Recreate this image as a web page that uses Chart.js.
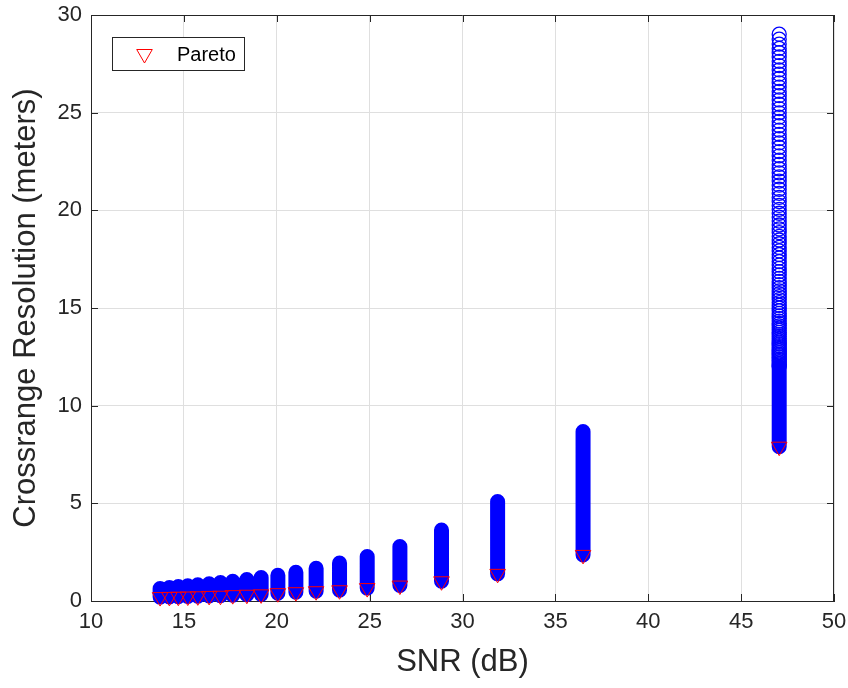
<!DOCTYPE html>
<html><head><meta charset="utf-8">
<script src="https://cdn.jsdelivr.net/npm/chart.js@4.4.1/dist/chart.umd.min.js"></script>
<style>html,body{margin:0;padding:0;background:#fff;} #wrap{width:848px;height:688px;}</style>
</head><body><div id="wrap"><canvas id="c" width="848" height="688"></canvas></div>
<script>
// ---- data ----
const snr = [13.72, 14.22, 14.70, 15.21, 15.75, 16.36, 16.97, 17.63, 18.39, 19.16,
             20.06, 21.03, 22.12, 23.38, 24.87, 26.63, 28.87, 31.89, 36.49, 47.05];
const crMax = [0.64, 0.69, 0.74, 0.78, 0.83, 0.88, 0.95, 1.01, 1.10, 1.20,
               1.32, 1.47, 1.68, 1.94, 2.28, 2.79, 3.63, 5.09, 8.68, 29.02];
const pareto = [0.20, 0.21, 0.22, 0.23, 0.24, 0.26, 0.27, 0.30, 0.32, 0.34,
                0.40, 0.45, 0.50, 0.55, 0.66, 0.79, 1.01, 1.39, 2.36, 7.90];
// individually visible circles in the last (sparse) column
const sparseSnr = 47.05;
const sparseValues = [12.00, 12.08, 12.16, 12.24, 12.32, 12.40, 12.48, 12.56, 12.64, 12.72,
  12.80, 12.89, 12.98, 13.07, 13.16, 13.25, 13.34, 13.44, 13.54, 13.64, 13.75, 13.86, 13.97,
  14.09, 14.21, 14.33, 14.46, 14.59, 14.72, 14.86, 15.00, 15.14, 15.28, 15.43, 15.58, 15.73,
  15.88, 16.04, 16.20, 16.36, 16.52, 16.69, 16.86, 17.03, 17.20, 17.38, 17.56, 17.74, 17.92,
  18.10, 18.29, 18.48, 18.67, 18.86, 19.05, 19.25, 19.45, 19.65, 19.85, 20.05, 20.25, 20.45,
  20.66, 20.87, 21.08, 21.29, 21.50, 21.71, 21.92, 22.13, 22.35, 22.57, 22.79, 23.01, 23.23,
  23.45, 23.67, 23.89, 24.11, 24.33, 24.55, 24.77, 24.99, 25.21, 25.43, 25.65, 25.87, 26.09,
  26.31, 26.53, 26.75, 26.97, 27.19, 27.41, 27.63, 27.85, 28.07, 28.29, 28.51, 28.76, 29.02];
const xTicks = [10, 15, 20, 25, 30, 35, 40, 45, 50];
const yTicks = [0, 5, 10, 15, 20, 25, 30];
const seriesLabel = 'Pareto';

// ---- build datasets ----
const columnData = [];
snr.forEach((s, i) => {
  let top = crMax[i];
  if (s === sparseSnr) top = Math.min(top, sparseValues[0]);
  columnData.push({x: s, y: pareto[i]}, {x: s, y: top}, {x: s, y: null});
});
const paretoData = snr.map((s, i) => ({x: s, y: pareto[i]}));
const sparseData = sparseValues.map(v => ({x: sparseSnr, y: v}));

const FONT = "'Liberation Sans', Arial, Helvetica, sans-serif";
const AX = '#262626';

const boxTicks = {
  id: 'boxTicks',
  beforeDatasetsDraw(chart) {
    const {ctx, chartArea: a, scales: {x, y}} = chart;
    ctx.save();
    ctx.strokeStyle = AX; ctx.lineWidth = 1;
    ctx.beginPath();
    ctx.moveTo(a.left, a.top + 0.5); ctx.lineTo(a.right, a.top + 0.5);
    ctx.moveTo(a.right - 0.5, a.top); ctx.lineTo(a.right - 0.5, a.bottom);
    const L = 7;
    xTicks.forEach(v => {
      const px = Math.round(x.getPixelForValue(v)) + 0.5;
      ctx.moveTo(px, a.bottom); ctx.lineTo(px, a.bottom - L);
      ctx.moveTo(px, a.top); ctx.lineTo(px, a.top + L);
    });
    yTicks.forEach(v => {
      const py = Math.round(y.getPixelForValue(v)) + 0.5;
      ctx.moveTo(a.left, py); ctx.lineTo(a.left + L, py);
      ctx.moveTo(a.right, py); ctx.lineTo(a.right - L, py);
    });
    ctx.stroke();
    ctx.restore();
  },
  afterDraw(chart) {
    const {ctx} = chart;
    const ds = chart.data.datasets[0];
    ctx.save();
    const bx = 112.5, by = 37.5, bw = 132, bh = 33;
    ctx.fillStyle = '#fff';
    ctx.fillRect(bx, by, bw, bh);
    ctx.strokeStyle = AX; ctx.lineWidth = 1;
    ctx.strokeRect(bx, by, bw, bh);
    ctx.strokeStyle = ds.borderColor; ctx.lineWidth = 1;
    Chart.helpers.drawPoint(ctx, {pointStyle: 'triangle', radius: 9, rotation: 180, borderWidth: 1}, 144.5, 54);
    ctx.fillStyle = '#000';
    ctx.font = '20px ' + FONT;
    ctx.textBaseline = 'middle';
    ctx.textAlign = 'left';
    ctx.fillText(ds.label, 177, 55);
    ctx.restore();
  }
};

new Chart(document.getElementById('c'), {
  type: 'scatter',
  data: {
    datasets: [
      {label: seriesLabel, data: paretoData, pointStyle: 'triangle', rotation: 180, pointRadius: 9,
       borderColor: '#ff0000', backgroundColor: 'rgba(0,0,0,0)', borderWidth: 1, clip: false},
      {label: 'cols', data: sparseData, pointStyle: 'circle', pointRadius: 7,
       borderColor: '#0000ff', backgroundColor: 'rgba(0,0,0,0)', borderWidth: 1.3, clip: false},
      {label: 'solid', data: columnData, showLine: true, spanGaps: false, pointRadius: 0,
       borderColor: '#0000ff', borderWidth: 15, borderCapStyle: 'round', clip: false}
    ]
  },
  options: {
    responsive: false, animation: false, devicePixelRatio: 1, events: [],
    layout: {padding: {top: 15, right: 14, left: 0, bottom: 0}},
    plugins: {legend: {display: false}, tooltip: {enabled: false}},
    scales: {
      x: {
        type: 'linear', min: 10, max: 50,
        afterBuildTicks: s => { s.ticks = xTicks.map(v => ({value: v})); },
        afterFit: s => { s.height = 87; s.paddingLeft = 0; s.paddingRight = 0; },
        ticks: {color: AX, font: {family: FONT, size: 22}, padding: 8, maxRotation: 0},
        grid: {color: '#dfdfdf', drawTicks: false},
        border: {color: AX, width: 1},
        title: {display: true, text: 'SNR (dB)', color: AX, font: {family: FONT, size: 31}, padding: {bottom: 7}}
      },
      y: {
        type: 'linear', min: 0, max: 30,
        afterBuildTicks: s => { s.ticks = yTicks.map(v => ({value: v})); },
        afterFit: s => { s.width = 91; s.paddingTop = 0; s.paddingBottom = 0; },
        ticks: {color: AX, font: {family: FONT, size: 22}, padding: 9},
        grid: {color: '#dfdfdf', drawTicks: false},
        border: {color: AX, width: 1},
        title: {display: true, text: 'Crossrange Resolution (meters)', color: AX, font: {family: FONT, size: 31}, padding: {top: 8}}
      }
    }
  },
  plugins: [boxTicks]
});
</script></body></html>
